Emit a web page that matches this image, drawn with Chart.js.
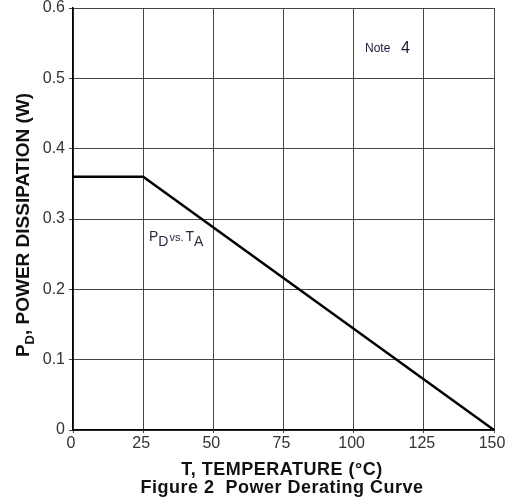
<!DOCTYPE html>
<html>
<head>
<meta charset="utf-8">
<script src="https://cdn.jsdelivr.net/npm/chart.js@4.4.1/dist/chart.umd.min.js"></script>
<style>
  html, body { margin: 0; padding: 0; background: #fff; }
  #wrap { width: 506px; height: 501px; }
</style>
</head>
<body>
<div id="wrap"><canvas id="deratingChart" width="506" height="501"></canvas></div>
<script>
// data
var tempC = [0, 25, 150];
var powerW = [0.36, 0.36, 0];
var xTicks = [0, 25, 50, 75, 100, 125, 150];
var yTicks = [0, 0.1, 0.2, 0.3, 0.4, 0.5, 0.6];

var FONT = "'Liberation Sans', Arial, sans-serif";

// draws a run of text pieces, some of them subscripts
function drawRuns(ctx, runs, x, y) {
  runs.forEach(function (r) {
    ctx.font = r.font;
    ctx.fillText(r.t, x, y + (r.dy || 0));
    x += ctx.measureText(r.t).width + (r.gap || 0);
  });
  return x;
}
function runsWidth(ctx, runs) {
  var w = 0;
  runs.forEach(function (r) {
    ctx.font = r.font;
    w += ctx.measureText(r.t).width + (r.gap || 0);
  });
  return w;
}

var textPlugin = {
  id: "textPlugin",
  afterDraw: function (chart) {
    var ctx = chart.ctx;
    ctx.save();
    ctx.textBaseline = "alphabetic";
    ctx.textAlign = "left";

    // y axis title, rotated
    ctx.save();
    ctx.translate(29, 225);
    ctx.rotate(-Math.PI / 2);
    ctx.fillStyle = "#111";
    var yRuns = [
      { t: "P", font: "bold 19px " + FONT },
      { t: "D", font: "bold 13px " + FONT, dy: 5 },
      { t: ", POWER DISSIPATION (W)", font: "bold 19px " + FONT }
    ];
    drawRuns(ctx, yRuns, -runsWidth(ctx, yRuns) / 2, 0);
    ctx.restore();

    // x axis title + figure caption
    ctx.fillStyle = "#111";
    ctx.textAlign = "center";
    ctx.letterSpacing = "0.5px";
    ctx.font = "bold 18px " + FONT;
    ctx.fillText("T, TEMPERATURE (\u00B0C)", 282, 475);
    ctx.fillText("Figure 2  Power Derating Curve", 282, 493);
    ctx.letterSpacing = "0px";
    ctx.textAlign = "left";

    // "Note 4"
    ctx.fillStyle = "#1a1a3a";
    ctx.font = "12px " + FONT;
    ctx.fillText("Note", 365, 52);
    ctx.font = "16px " + FONT;
    ctx.fillText("4", 401, 53);

    // "PD vs. TA"
    ctx.fillStyle = "#2a2a40";
    drawRuns(ctx, [
      { t: "P", font: "14px " + FONT },
      { t: "D", font: "14px " + FONT, dy: 5, gap: 1 },
      { t: "vs.", font: "11px " + FONT, gap: 2 },
      { t: "T", font: "14px " + FONT },
      { t: "A", font: "14px " + FONT, dy: 5 }
    ], 149, 241);

    ctx.restore();
  }
};

var ctx = document.getElementById("deratingChart").getContext("2d");

var deratingChart = new Chart(ctx, {
  type: "line",
  data: {
    datasets: [
      {
        label: "PD vs. TA",
        data: tempC.map(function (t, i) { return { x: t, y: powerW[i] }; }),
        borderColor: "#000",
        borderWidth: 2.5,
        pointRadius: 0,
        fill: false,
        tension: 0
      }
    ]
  },
  options: {
    responsive: false,
    animation: false,
    layout: { padding: { left: 0, top: 8, right: 12, bottom: 0 } },
    plugins: {
      legend: { display: false },
      tooltip: { enabled: false }
    },
    scales: {
      x: {
        type: "linear",
        min: 0,
        max: 150,
        afterBuildTicks: function (s) { s.ticks = xTicks.map(function (v) { return { value: v }; }); },
        afterFit: function (s) { s.height = 71; s.paddingRight = 0; s.paddingLeft = 0; },
        ticks: {
          color: "#333",
          font: { family: FONT, size: 16 },
          padding: 1,
          labelOffset: -2,
          maxRotation: 0
        },
        grid: { color: "#444", lineWidth: 1, tickLength: 3 },
        border: { color: "#000", width: 1.5 }
      },
      y: {
        min: 0,
        max: 0.6,
        afterBuildTicks: function (s) { s.ticks = yTicks.map(function (v) { return { value: v }; }); },
        afterFit: function (s) { s.width = 73; s.paddingTop = 0; s.paddingBottom = 0; },
        ticks: {
          color: "#333",
          font: { family: FONT, size: 16 },
          padding: 4,
          callback: function (v) { return v === 0 ? "0" : v.toFixed(1); }
        },
        grid: { color: "#444", lineWidth: 1, tickLength: 4 },
        border: { color: "#000", width: 1.5 }
      }
    }
  },
  plugins: [textPlugin]
});
</script>
</body>
</html>
